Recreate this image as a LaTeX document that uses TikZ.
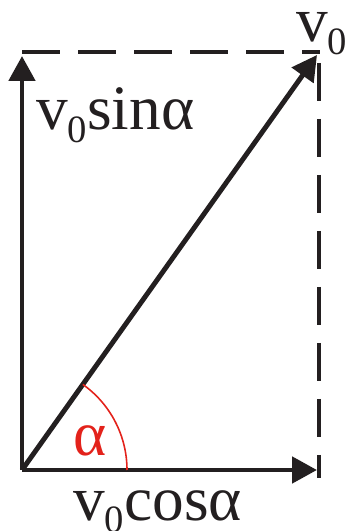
\documentclass[tikz,border=0pt]{standalone}
\usepackage{fontspec}
\setmainfont{Liberation Serif}
\usepackage{tikz}
\usetikzlibrary{arrows.meta,calc}
\definecolor{vecink}{HTML}{231F20}
\definecolor{angred}{HTML}{E3221B}
\newcommand\lowsub[1]{\raisebox{-0.2em}{\fontsize{22}{22}\selectfont #1}}

\begin{document}
\begin{tikzpicture}[line join=miter,
  vec/.style={vecink,line width=2.8pt,-{Triangle[length=0.5cm,width=0.52cm]}},
  guide/.style={vecink,line width=2pt,dash pattern=on 0.76cm off 0.36cm},
  lab/.style={anchor=base west,inner sep=0pt,text=vecink,font=\fontsize{36}{40}\selectfont}]
\path[use as bounding box] (0,0) rectangle (6.9,10.62);
\coordinate (O) at (0.44,1.22);
\coordinate (xtip) at (6.34,1.22);
\coordinate (ytip) at (0.44,9.5);
\coordinate (vtip) at (6.34,9.52);
% dashed completion of the rectangle
\coordinate (tl) at (0.44,9.58);
\coordinate (tr) at (6.40,9.58);
\coordinate (rt) at (6.38,9.36);
\coordinate (rb) at (6.38,1.06);
\draw[guide] (tl)--(tr);
\draw[guide] (rt)--(rb);
% components and the vector
\draw[vec] (O)--(xtip);
\draw[vec] (O)--(ytip);
\draw[vec] (O)--(vtip);
% angle
\draw[angred,line width=0.9pt] ($(O)+(0:2.1)$) arc[start angle=0,end angle=54.6,radius=2.1];
\node[lab,text=angred,anchor=center] (alpha) at (1.80,1.80) {α};
\node[lab] (vsin) at (0.72,8.02) {v\lowsub{0}sinα};
\node[lab] (vcos) at (1.46,0.22) {v\lowsub{0}cosα};
\node[lab] (vnull) at (5.92,9.78) {v\lowsub{0}};
\end{tikzpicture}
\end{document}
